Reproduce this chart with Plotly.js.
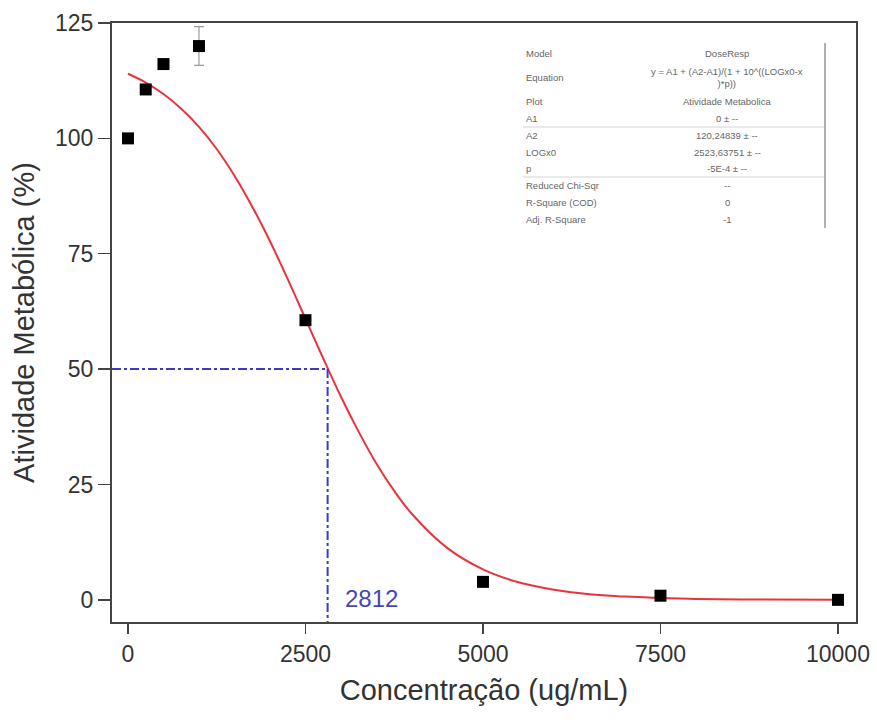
<!DOCTYPE html>
<html>
<head>
<meta charset="utf-8">
<script src="https://cdn.plot.ly/plotly-3.0.1.min.js"></script>
<style>html,body{margin:0;padding:0;background:#fff;}#chart{width:877px;height:720px;}</style>
</head>
<body>
<div id="chart"></div>
<script>
// Measured data points
var concX = [0, 250, 500, 1000, 2500, 5000, 7500, 10000];
var activityY = [100, 110.6, 116.1, 120.0, 60.6, 3.9, 0.9, 0.0];
var activityErr = [0, 0, 0, 4.2, 0, 0, 0, 0];

// Fitted curve
var fitX = [0, 250, 500, 750, 1000, 1250, 1500, 1750, 2000, 2250, 2500, 2750, 3000, 3250, 3500, 3750, 4000, 4500, 5000, 5500, 6000, 6500, 7000, 7500, 8000, 9000, 10000];
var fitY = [114.0, 112.1, 109.6, 106.4, 102.5, 97.7, 91.9, 85.2, 77.7, 69.5, 60.9, 52.3, 44.0, 36.4, 29.5, 23.6, 18.6, 11.2, 6.6, 3.8, 2.2, 1.2, 0.7, 0.4, 0.2, 0.07, 0.02];

// IC50 marker
var ic50 = 2812;
var halfLevel = 50;
var ic50Label = "2812";

// Tick labels
var xTicks = [0, 2500, 5000, 7500, 10000];
var yTicks = [0, 25, 50, 75, 100, 125];

// Fit result table
var tableKeys = ["Model", "Equation", "Plot", "A1", "A2", "LOGx0", "p", "Reduced Chi-Sqr", "R-Square (COD)", "Adj. R-Square"];
var tableVals = ["DoseResp", "y = A1 + (A2-A1)/(1 + 10^((LOGx0-x<br>)*p))", "Atividade Metabolica", "0 ± --", "120,24839 ± --", "2523,63751 ± --", "-5E-4 ± --", "--", "0", "-1"];

var xRange = [-225, 10254];
var yRange = [-4.8, 125];

// layout geometry helpers (pixel -> paper)
var M = {l: 112, r: 21, t: 23, b: 98};
var W = 877, H = 720;
var pw = W - M.l - M.r, ph = H - M.t - M.b;
function px(x) { return (x - M.l) / pw; }
function py(y) { return (H - M.b - y) / ph; }

var traces = [
  {
    x: fitX, y: fitY, mode: 'lines', type: 'scatter',
    line: {color: '#e8343f', width: 2, shape: 'spline'},
    hoverinfo: 'skip', showlegend: false
  },
  {
    x: concX, y: activityY, mode: 'markers', type: 'scatter',
    marker: {symbol: 'square', size: 12, color: '#000'},
    error_y: {type: 'data', array: activityErr, visible: true, color: '#999', thickness: 1.2, width: 5},
    showlegend: false
  }
];

var rowY = [53, 78, 101, 118, 135, 152, 168, 185, 202, 219];
var annotations = [];
for (var i = 0; i < tableKeys.length; i++) {
  annotations.push({
    xref: 'paper', yref: 'paper', x: px(524), y: py(rowY[i]),
    xanchor: 'left', yanchor: 'middle', showarrow: false,
    text: tableKeys[i], font: {family: 'Arial, Liberation Sans', size: 9.5, color: '#666'}
  });
  annotations.push({
    xref: 'paper', yref: 'paper', x: px(727), y: py(rowY[i]),
    xanchor: 'center', yanchor: 'middle', showarrow: false,
    text: tableVals[i], font: {family: 'Arial, Liberation Sans', size: 9.5, color: '#666'}
  });
}
annotations.push({
  xref: 'x', yref: 'y', x: ic50 + 220, y: 0.3, xanchor: 'left', yanchor: 'middle',
  showarrow: false, text: ic50Label,
  font: {family: 'Arial, Liberation Sans', size: 24, color: '#4646b4'}
});

var shapes = [
  {type: 'line', xref: 'x', yref: 'y', x0: xRange[0], x1: ic50, y0: halfLevel, y1: halfLevel,
   line: {color: '#3b3bc4', width: 2, dash: 'dashdot'}},
  {type: 'line', xref: 'x', yref: 'y', x0: ic50, x1: ic50, y0: halfLevel, y1: yRange[0],
   line: {color: '#3b3bc4', width: 2, dash: 'dashdot'}},
  {type: 'line', xref: 'paper', yref: 'paper', x0: px(523), x1: px(825), y0: py(127), y1: py(127),
   line: {color: '#d4d4d4', width: 1}},
  {type: 'line', xref: 'paper', yref: 'paper', x0: px(523), x1: px(825), y0: py(177), y1: py(177),
   line: {color: '#d4d4d4', width: 1}},
  {type: 'line', xref: 'paper', yref: 'paper', x0: px(825), x1: px(825), y0: py(43), y1: py(228),
   line: {color: '#b0b0b0', width: 2}}
];

var axisFont = {family: 'Arial, Liberation Sans', size: 23, color: '#333'};
var layout = {
  width: W, height: H,
  margin: M,
  paper_bgcolor: '#fff', plot_bgcolor: '#fff',
  xaxis: {
    range: xRange, tickvals: xTicks, ticktext: xTicks.map(String),
    showgrid: false, zeroline: false, showline: true, mirror: true,
    linecolor: '#444', linewidth: 2, ticks: 'outside', ticklen: 10, tickwidth: 1.5, tickcolor: '#444',
    tickfont: axisFont,
    title: {text: 'Concentração (ug/mL)', font: {family: 'Arial, Liberation Sans', size: 29, color: '#333'}, standoff: 14}
  },
  yaxis: {
    range: yRange, tickvals: yTicks, ticktext: yTicks.map(String),
    showgrid: false, zeroline: false, showline: true, mirror: true,
    linecolor: '#444', linewidth: 2, ticks: 'outside', ticklen: 12, tickwidth: 1.5, tickcolor: '#444',
    tickfont: axisFont,
    title: {text: 'Atividade Metabólica (%)', font: {family: 'Arial, Liberation Sans', size: 29, color: '#333'}, standoff: 12}
  },
  shapes: shapes,
  annotations: annotations
};

Plotly.newPlot('chart', traces, layout, {displayModeBar: false, staticPlot: true});
</script>
</body>
</html>
